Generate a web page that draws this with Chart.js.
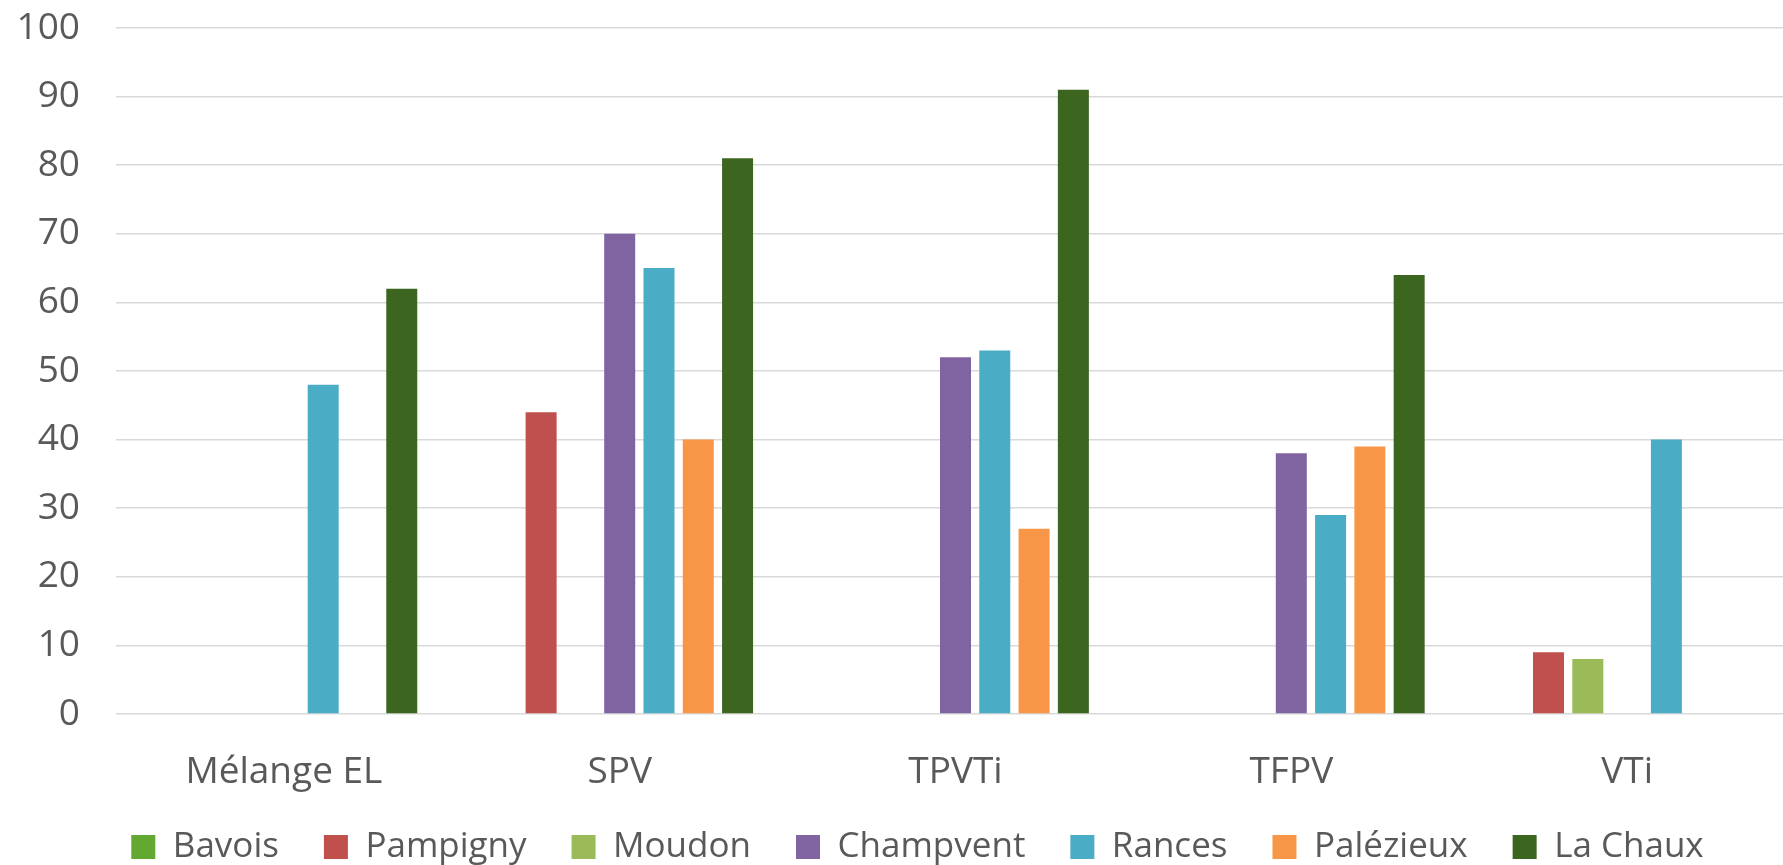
<!DOCTYPE html>
<html>
<head>
<meta charset="utf-8">
<script src="https://cdn.jsdelivr.net/npm/chart.js@4.4.1/dist/chart.umd.min.js"></script>
<style>
  html, body { margin: 0; padding: 0; overflow: hidden; background: #ffffff; }
  #wrap { width: 1840px; height: 865px; }
  canvas { display: block; }
</style>
</head>
<body>
<div id="wrap"><canvas id="chart" width="1840" height="865"></canvas></div>
<script>
// ---- data ----
const categories = ['Mélange EL', 'SPV', 'TPVTi', 'TFPV', 'VTi'];
const seriesNames = ['Bavois', 'Pampigny', 'Moudon', 'Champvent', 'Rances', 'Palézieux', 'La Chaux'];
const bavois    = [null, null, null, null, null];
const pampigny  = [null, 44, null, null, 9];
const moudon    = [null, null, null, null, 8];
const champvent = [null, 70, 52, 38, null];
const rances    = [48, 65, 53, 29, 40];
const palezieux = [null, 40, 27, 39, null];
const laChaux   = [62, 81, 91, 64, null];
const yMin = 0, yMax = 100, yStep = 10;

// ---- styling ----
const seriesColors = ['#63a82f', '#c0504d', '#9bbb59', '#8064a2', '#4bacc6', '#f79646', '#3c6520'];
const seriesValues = [bavois, pampigny, moudon, champvent, rances, palezieux, laChaux];
const textColor = '#595959';
const fontFamily = "'Open Sans', 'Noto Sans', sans-serif";

const datasets = seriesNames.map((name, i) => ({
  label: name,
  data: seriesValues[i],
  backgroundColor: seriesColors[i],
  borderWidth: 0,
  categoryPercentage: 0.819,
  barPercentage: 0.789
}));

new Chart(document.getElementById('chart'), {
  type: 'bar',
  data: { labels: categories, datasets: datasets },
  options: {
    responsive: false,
    animation: false,
    events: [],
    layout: { padding: { left: 0, right: 5, top: 28, bottom: 0 } },
    plugins: {
      tooltip: { enabled: false },
      title: { display: false },
      legend: {
        display: true,
        position: 'bottom',
        align: 'center',
        maxHeight: 80.5,
        labels: {
          color: textColor,
          font: { family: fontFamily, size: 35 },
          boxWidth: 24,
          boxHeight: 24,
          padding: 45
        }
      }
    },
    scales: {
      x: {
        grid: { display: false, drawTicks: false },
        border: { display: false },
        ticks: {
          color: textColor,
          font: { family: fontFamily, size: 37 },
          mirror: true,
          padding: -81,
          maxRotation: 0,
          autoSkip: false
        },
        afterFit: (scale) => { scale.height = 70.5; }
      },
      y: {
        min: yMin,
        max: yMax,
        grid: { color: '#d9d9d9', lineWidth: 1.5, drawTicks: true, tickLength: 36, tickColor: 'rgba(0,0,0,0)' },
        border: { display: false },
        ticks: {
          stepSize: yStep,
          color: textColor,
          font: { family: fontFamily, size: 37 },
          padding: 0
        },
        afterFit: (scale) => { scale.width = 116; }
      },
      spacer: {
        type: 'linear',
        position: 'right',
        display: true,
        grid: { display: false, drawTicks: false },
        border: { display: false },
        ticks: { display: false },
        afterFit: (scale) => { scale.width = 40; }
      }
    }
  }
});
</script>
</body>
</html>
